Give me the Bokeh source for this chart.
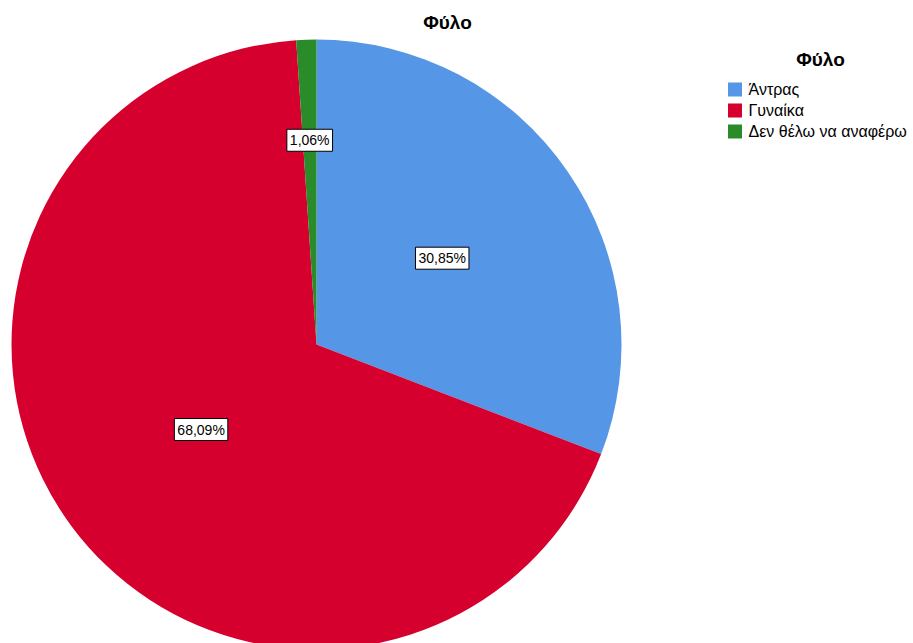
import numpy as np
from bokeh.plotting import figure
from bokeh.models import Range1d, ColumnDataSource, Label
from bokeh.core.properties import value
from bokeh.embed import file_html
from bokeh.resources import INLINE

# ---- data ----
title_text = "Φύλο"
categories = ["Άντρας", "Γυναίκα", "Δεν θέλω να αναφέρω"]
percents = [30.85, 68.09, 1.06]
pct_labels = ["30,85%", "68,09%", "1,06%"]
colors = ["#5596E6", "#D6002F", "#2A8B2A"]

# ---- layout/style ----
W, H = 913, 643
FONT = "Liberation Sans"
cx, cy, R = 316, -344, 305
label_r = [0.5, 0.47, 0.67]

p = figure(width=W, height=H, output_backend="svg", toolbar_location=None,
           x_range=Range1d(0, W), y_range=Range1d(-H, 0), min_border=0,
           background_fill_color="white", border_fill_color="white")
p.axis.visible = False
p.grid.visible = False
p.outline_line_color = None

frac = np.array(percents) / np.sum(percents)
cum_end = np.cumsum(frac)
cum_start = cum_end - frac
start = np.pi / 2 - 2 * np.pi * cum_end
end = np.pi / 2 - 2 * np.pi * cum_start
mid = (start + end) / 2
lx = cx + np.array(label_r) * R * np.cos(mid)
ly = cy + np.array(label_r) * R * np.sin(mid)

src = ColumnDataSource(dict(start=start, end=end, color=colors, lx=lx, ly=ly,
                            lab=pct_labels))
p.wedge(x=cx, y=cy, radius=R, start_angle="start", end_angle="end",
        fill_color="color", line_color=None, source=src)

p.text(x="lx", y="ly", text="lab", source=src, text_align="center",
       text_baseline="middle", text_font=value(FONT), text_font_size="14px",
       text_color="black", background_fill_color="white",
       border_line_color="black", border_line_width=1, padding=3)

# title
p.add_layout(Label(x=447, y=-22, text=title_text, text_align="center",
                   text_baseline="middle", text_font=FONT, text_font_size="19px",
                   text_font_style="bold", text_color="black"))

# legend (manual)
p.add_layout(Label(x=820, y=-59, text=title_text, text_align="center",
                   text_baseline="middle", text_font=FONT, text_font_size="19px",
                   text_font_style="bold", text_color="black"))
idx = np.arange(len(categories))
leg = ColumnDataSource(dict(x=[734.5] * len(categories), tx=[748] * len(categories),
                            y=-89 - 21 * idx, cat=categories, color=colors))
p.rect(x="x", y="y", width=14, height=14, fill_color="color", line_color=None,
       source=leg)
p.text(x="tx", y="y", text="cat", source=leg, text_align="left",
       text_baseline="middle", text_font=value(FONT), text_font_size="16px",
       text_color="black")

open("out.html", "w").write(file_html(p, INLINE))
